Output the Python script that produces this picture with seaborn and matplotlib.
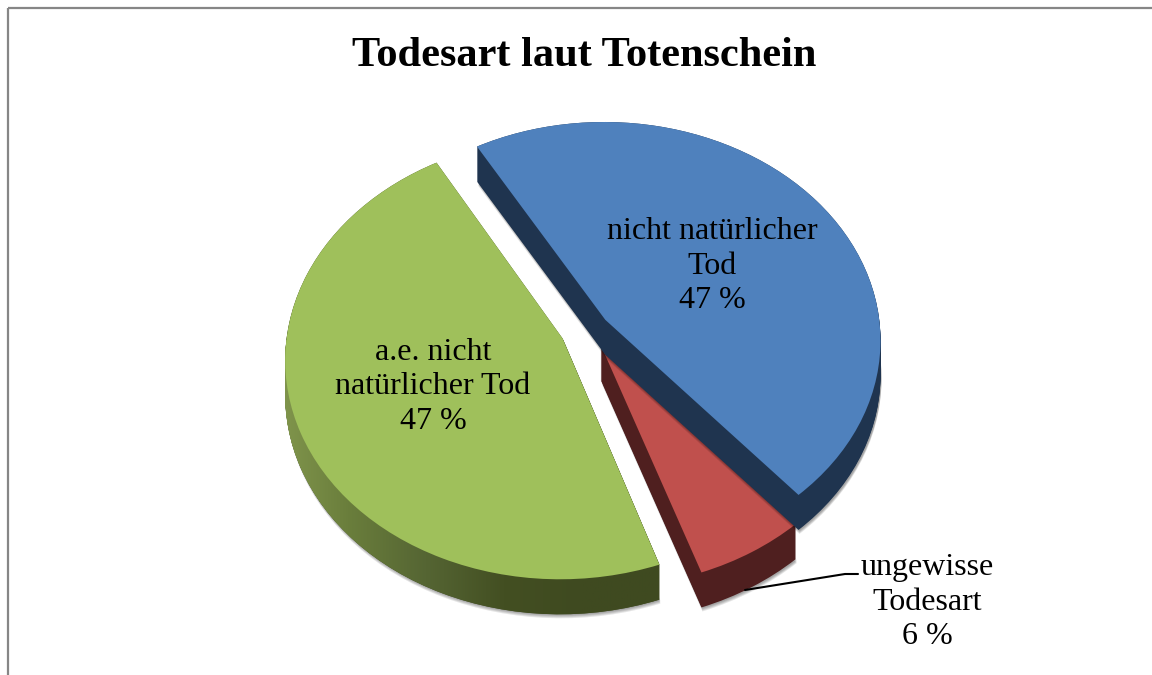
import numpy as np
import matplotlib
matplotlib.use("Agg")
import matplotlib.pyplot as plt
import seaborn as sns
from matplotlib.colors import LinearSegmentedColormap
from matplotlib.path import Path
from matplotlib.patches import Rectangle
from matplotlib.transforms import Affine2D, Transform

categories = ["nicht natürlicher\nTod", "ungewisse\nTodesart", "a.e. nicht\nnatürlicher Tod"]
shares = [47, 6, 47]
explode = [0.073, 0.085, 0.105]
title = "Todesart laut Totenschein"

top_colors = ["#4f81bd", "#c0504d", "#9fc05b"]
side_colors = ["#1f344f", "#4f1f1f", "#3f4a20"]
green_side = ["#84994f", "#6a7e3c", "#556533", "#434f22", "#3f4a20", "#3f4a20"]

sns.set_theme(style="white")
plt.rcParams["font.family"] = ["Liberation Serif", "DejaVu Serif"]

# pie centre and size in pixels, the tilt makes the front look bigger
CX, CY, R, SQUASH, TILT = 589, 329, 275, 0.79, 0.09
DEPTH = 35


class Tilted(Transform):
    input_dims = 2
    output_dims = 2
    is_affine = False

    def transform_non_affine(self, values):
        u, v = np.asarray(values).T
        p = 1 + TILT * v
        return np.column_stack([CX + R * u / p, CY - R * SQUASH * v / p])


def draw_pie(ax, colors, drop, z, dx=0, alpha=None):
    wedges, _ = ax.pie(shares, explode=explode, startangle=120, counterclock=False,
                       colors=colors, radius=1, wedgeprops=dict(linewidth=0, alpha=alpha))
    trans = Tilted() + Affine2D().translate(dx, drop)
    for w, zz in zip(wedges, z):
        w.set_transform(trans + ax.transData)
        w.set_zorder(zz)
    return wedges, trans


fig, ax = plt.subplots(figsize=(11.52, 6.75), dpi=100)
fig.subplots_adjust(0, 0, 1, 1)

# red goes first because the blue edge covers its tip, green last
order = {0: 20, 1: 10, 2: 30}
green_paths = []

for drop in range(DEPTH + 4, DEPTH, -1):
    draw_pie(ax, ["black"] * 3, drop, [order[i] + 1 for i in range(3)], dx=1, alpha=0.10)

for drop in range(0, DEPTH + 1):
    wedges, trans = draw_pie(ax, side_colors, drop, [order[i] + 2 for i in range(3)])
    green_paths.append(trans.transform_path(wedges[2].get_path()))

# the green edge fades from left to right
cmap = LinearSegmentedColormap.from_list("green_side", green_side)
im = ax.imshow(np.linspace(0, 1, 256)[None, :], cmap=cmap, extent=(270, 660, 620, 340),
               aspect="auto", zorder=order[2] + 3)
im.set_clip_path(Path.make_compound_path(*green_paths), ax.transData)

draw_pie(ax, top_colors, 0, [order[i] + 4 for i in range(3)])

ax.set_aspect("auto")
ax.set_xlim(0, 1152)
ax.set_ylim(675, 0)
ax.set_axis_off()

ax.add_patch(Rectangle((7.5, 7.5), 1300, 800, fill=False, edgecolor="#868686", linewidth=1.6, zorder=1))

ax.text(584, 56, title, fontsize=30.5, fontweight="bold", ha="center", va="center", color="black", zorder=50)

label_pos = [(712, 266), (927, 602), (433, 387)]
for name, share, (x, y) in zip(categories, shares, label_pos):
    ax.text(x, y, f"{name}\n{share} %", fontsize=23, ha="center", va="center",
            linespacing=1.27, color="black", zorder=50)

ax.plot([745, 845, 858], [590, 574, 574], color="black", linewidth=1.5, zorder=50)

fig.savefig("out.png", dpi=100)
